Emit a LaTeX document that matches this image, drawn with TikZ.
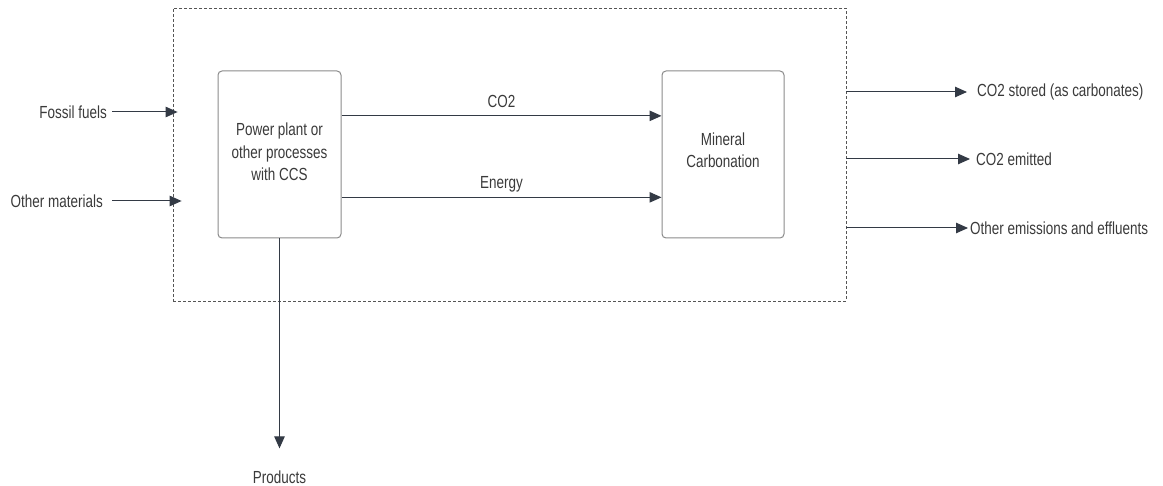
\documentclass[tikz,border=0pt]{standalone}
\usepackage{fontspec}
\setmainfont{Liberation Sans}
\usetikzlibrary{arrows.meta,calc}
\definecolor{linec}{HTML}{333A45}
\definecolor{txtc}{HTML}{3A3A3A}
\definecolor{boxc}{HTML}{8A8A8A}
\definecolor{dashc}{HTML}{555555}
\tikzset{
  txt/.style={font=\fontsize{17.5}{22.5}\selectfont, text=txtc, inner sep=0pt, xscale=0.77, transform shape, align=center},
  procbox/.style={draw=boxc, line width=1pt, rounded corners=4pt, inner sep=0pt},
  sysbox/.style={draw=dashc, line width=0.8pt, dash pattern=on 3pt off 2pt, inner sep=0pt},
  arr/.style={draw=linec, line width=1pt, -{Triangle[length=12pt,width=10.5pt]}}
}
\begin{document}
\begin{tikzpicture}[x=1pt,y=-1pt]
\useasboundingbox (0,0) rectangle (1163,486);
% system boundary
\node[sysbox, minimum width=673pt, minimum height=293pt] (sys) at (509.5,154.5) {};
% process boxes
\node[procbox, minimum width=123pt, minimum height=167pt] (pp) at (279.5,154.5) {};
\node[procbox, minimum width=122pt, minimum height=167pt] (mc) at (723,154.5) {};
\node[txt] (pptext) at (279.5,152) {Power plant or\\other processes\\with CCS};
\node[txt] (mctext) at (723,150) {Mineral\\Carbonation};
% inputs
\node[txt, anchor=east] (fossil) at (107,112) {Fossil fuels};
\node[txt, anchor=east] (other) at (103,201) {Other materials};
\draw[arr] ([xshift=5pt]fossil.east) -- ([xshift=5pt]fossil.east -| sys.west);
\draw[arr] ([xshift=9pt]other.east) -- ([xshift=9pt]other.east -| sys.west);
% internal flows
\coordinate (co2s) at ($(pp.north east)!0.27!(pp.south east)$);
\coordinate (ens) at ($(pp.north east)!0.755!(pp.south east)$);
\draw[arr] (co2s) -- (co2s -| mc.west) node[txt, midway, above=8pt] (co2lab) {CO2};
\draw[arr] (ens) -- (ens -| mc.west) node[txt, midway, above=5pt] (enlab) {Energy};
% outputs
\node[txt, anchor=west] (stored) at (977,92) {CO2 stored (as carbonates)};
\node[txt, anchor=west] (emitted) at (976,159) {CO2 emitted};
\node[txt, anchor=west] (othem) at (970,228) {Other emissions and effluents};
\draw[arr] (stored.west -| sys.east) -- ([xshift=-10pt]stored.west);
\draw[arr] (emitted.west -| sys.east) -- ([xshift=-6pt]emitted.west);
\draw[arr] (othem.west -| sys.east) -- ([xshift=-2pt]othem.west);
% products
\node[txt] (prod) at (279.5,477) {Products};
\draw[arr] (pp.south) -- ([yshift=22pt]prod.north);
\end{tikzpicture}
\end{document}
